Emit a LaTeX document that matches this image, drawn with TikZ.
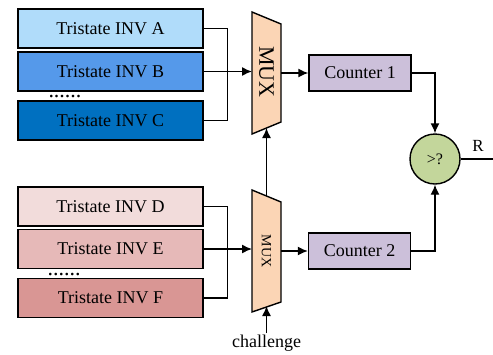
\documentclass[tikz,border=0pt]{standalone}
\usepackage{fontspec}
\setmainfont{Liberation Serif}
\usetikzlibrary{arrows.meta}

\definecolor{invA}{HTML}{B0DCFA}
\definecolor{invB}{HTML}{5599EA}
\definecolor{invC}{HTML}{0070C0}
\definecolor{invD}{HTML}{F2DCDB}
\definecolor{invE}{HTML}{E6B9B8}
\definecolor{invF}{HTML}{D99694}
\definecolor{muxfill}{HTML}{FBD5B5}
\definecolor{cntfill}{HTML}{CCC0DA}
\definecolor{cmpfill}{HTML}{C3D69B}

\begin{document}
\begin{tikzpicture}[x=1pt,y=-1pt,line width=1.4pt,
        invbox/.style={draw, rectangle, minimum width=185pt, minimum height=39pt, font=\fontsize{18}{20}\selectfont},
        cntbox/.style={draw, rectangle, fill=cntfill, minimum width=102pt, minimum height=36pt, font=\fontsize{18}{20}\selectfont},
        muxshape/.style={draw, fill=muxfill, line join=miter},
        dotrow/.style={inner sep=0pt, font=\fontsize{22}{24}\selectfont},
        arr/.style={-{Latex[length=10pt,width=9pt]}}
    ]
        \useasboundingbox (0,0) rectangle (493,354);

        % Upper group of inverters
        \node[invbox, fill=invA] (invA) at (110.5,28.5) {Tristate INV A};
        \node[invbox, fill=invB] (invB) at (110.5,71.5) {Tristate INV B};
        \node[invbox, fill=invC] (invC) at (110.5,120.5) {Tristate INV C};
        \node[dotrow] (dotsU) at (65,97) {......};

        % Lower group of inverters
        \node[invbox, fill=invD] (invD) at (110.5,206.5) {Tristate INV D};
        \node[invbox, fill=invE] (invE) at (110.5,249) {Tristate INV E};
        \node[invbox, fill=invF] (invF) at (110.5,298) {Tristate INV F};
        \node[dotrow] (dotsL) at (64,275) {......};

        % Multiplexers
        \coordinate (m1a) at (252,12);
        \coordinate (m1b) at (281,24);
        \coordinate (m1c) at (281,122);
        \coordinate (m1d) at (252,134);
        \draw[muxshape] (m1a) -- (m1b) -- (m1c) -- (m1d) -- cycle;
        \node[rotate=-90, font=\fontsize{22}{24}\selectfont] (mux1) at (266.5,72) {MUX};

        \coordinate (m2a) at (252,190);
        \coordinate (m2b) at (281,202);
        \coordinate (m2c) at (281,302);
        \coordinate (m2d) at (252,312);
        \draw[muxshape] (m2a) -- (m2b) -- (m2c) -- (m2d) -- cycle;
        \node[rotate=-90, font=\fontsize{14}{16}\selectfont] (mux2) at (266.5,251) {MUX};

        % Counters and comparator
        \node[cntbox] (cnt1) at (360,73) {Counter 1};
        \node[cntbox] (cnt2) at (359.5,251) {Counter 2};
        \node[draw, circle, fill=cmpfill, minimum size=50pt, inner sep=0pt, font=\fontsize{16}{18}\selectfont] (cmp) at (435,159) {>?};

        % Wires into the multiplexers
        \draw (invA.east) -- ++(24,0) |- (invC.east);
        \draw[arr] (invB.east) -- (invB.east -| m1a);
        \draw (invD.east) -- ++(24,0) |- (invF.east);
        \draw[arr] (invE.east) -- (invE.east -| m2a);

        % Select lines
        \coordinate (sel1) at (266.5,128);
        \coordinate (top2) at (266.5,196);
        \coordinate (sel2) at (266.5,306);
        \coordinate (chal) at (266.5,333);
        \draw[arr] (top2) -- (sel1);
        \draw[arr] (chal) -- (sel2);
        \node[font=\fontsize{18}{20}\selectfont, anchor=north] (chlabel) at (266.5,331) {challenge};

        % Multiplexer outputs
        \draw[arr] (cnt1.west -| m1b) -- (cnt1.west);
        \draw[arr] (cnt2.west -| m2b) -- (cnt2.west);
        \draw[arr] (cnt1.east) -| (cmp.north);
        \draw[arr] (cnt2.east) -| (cmp.south);

        % Result
        \coordinate (rOut) at (493,159);
        \draw (cmp.east) -- (rOut);
        \node[font=\fontsize{17}{19}\selectfont] (rlabel) at (478,146) {R};
    \end{tikzpicture}
\end{document}
